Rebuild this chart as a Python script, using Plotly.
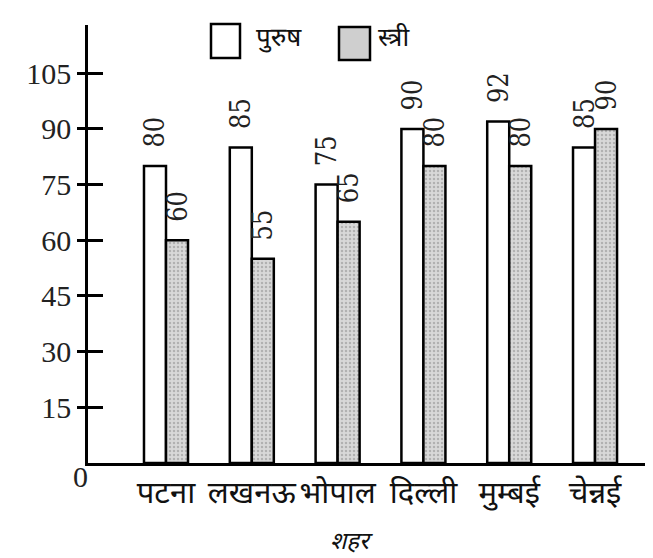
import plotly.graph_objects as go

cities = ["पटना", "लखनऊ", "भोपाल", "दिल्ली", "मुम्बई", "चेन्नई"]
male = [80, 85, 75, 90, 92, 85]
female = [60, 55, 65, 80, 80, 90]
ytick_vals = [15, 30, 45, 60, 75, 90, 105]
series_names = ["पुरुष", "स्त्री"]
x_title = "शहर"

SERIF = "Liberation Serif"
DEVA = "Noto Sans Devanagari, Lohit Devanagari, Mangal, Noto Sans, sans-serif"

label_font = dict(family="DejaVu Serif Condensed, Liberation Serif, serif", size=27, color="#222")
PAD = "\u00a0\u00a0"  # small gap between bar top and its rotated value label

fig = go.Figure()
fig.add_trace(go.Bar(
    x=cities, y=male, name=series_names[0],
    marker=dict(color="white", line=dict(color="black", width=2.5)),
    texttemplate=PAD + "%{y}", textposition="outside", textangle=-90,
    textfont=label_font, outsidetextfont=label_font,
    constraintext="none", cliponaxis=False,
    showlegend=False,
))
fig.add_trace(go.Bar(
    x=cities, y=female, name=series_names[1],
    marker=dict(color="#d4d4d4", line=dict(color="black", width=2.5),
                pattern=dict(shape=".", fgcolor="#8a8a8a", bgcolor="#d8d8d8", size=4, solidity=0.3)),
    texttemplate=PAD + "%{y}", textposition="outside", textangle=-90,
    textfont=label_font, outsidetextfont=label_font,
    constraintext="none", cliponaxis=False,
    showlegend=False,
))
# helper trace so the overlaying axis (crossing tick marks) is drawn
fig.add_trace(go.Scatter(x=[cities[0]], y=[0], yaxis="y2", mode="markers",
                         marker=dict(opacity=0), showlegend=False, hoverinfo="skip"))

L, R, T, B = 80, 15, 17, 103
W, H = 653, 558
pw, ph = W - L - R, H - T - B

def px(xp):
    return (xp - L) / pw

def py(yp):
    return (H - B - yp) / ph

fig.update_layout(
    width=W, height=H,
    margin=dict(l=L, r=R, t=T, b=B),
    font=dict(family=SERIF, size=29, color="#222"),
    plot_bgcolor="white", paper_bgcolor="white",
    barmode="group", bargap=0.487, bargroupgap=0,
    xaxis=dict(type="category", range=[-0.909, 5.594], showline=True, linecolor="black",
               linewidth=2.5, ticks="", showgrid=False, zeroline=False,
               tickfont=dict(family=DEVA, size=31, color="#111")),
    yaxis=dict(range=[0, 118], tickvals=ytick_vals, ticks="outside", ticklen=8,
               tickwidth=3, tickcolor="black", showline=True, linecolor="black",
               linewidth=2.5, showgrid=False, zeroline=False,
               tickfont=dict(family=SERIF, size=30, color="#222")),
    yaxis2=dict(range=[0, 118], overlaying="y", side="left", tickvals=ytick_vals,
                ticks="inside", ticklen=15, tickwidth=3, tickcolor="black",
                showticklabels=False, showline=False, showgrid=False, zeroline=False),
    shapes=[
        dict(type="rect", xref="paper", yref="paper", x0=px(203), x1=px(232), y0=py(50), y1=py(16),
             fillcolor="white", line=dict(color="black", width=2.5)),
        dict(type="rect", xref="paper", yref="paper", x0=px(331), x1=px(362), y0=py(52), y1=py(19),
             fillcolor="#cfcfcf", line=dict(color="black", width=2.5)),
    ],
    annotations=[
        dict(text=series_names[0], xref="paper", yref="paper", x=px(246), y=py(32),
             xanchor="left", yanchor="middle", showarrow=False,
             font=dict(family=DEVA, size=26, color="#111")),
        dict(text=series_names[1], xref="paper", yref="paper", x=px(368), y=py(32),
             xanchor="left", yanchor="middle", showarrow=False,
             font=dict(family=DEVA, size=26, color="#111")),
        dict(text="0", xref="paper", yref="paper", x=px(72), y=py(468),
             xanchor="center", yanchor="middle", showarrow=False,
             font=dict(family=SERIF, size=30, color="#222")),
        dict(text=x_title, xref="paper", yref="paper", x=px(343), y=py(535),
             xanchor="center", yanchor="middle", showarrow=False,
             font=dict(family=DEVA, size=24, color="#111", style="italic")),
    ],
)

fig.write_html("out.html")
